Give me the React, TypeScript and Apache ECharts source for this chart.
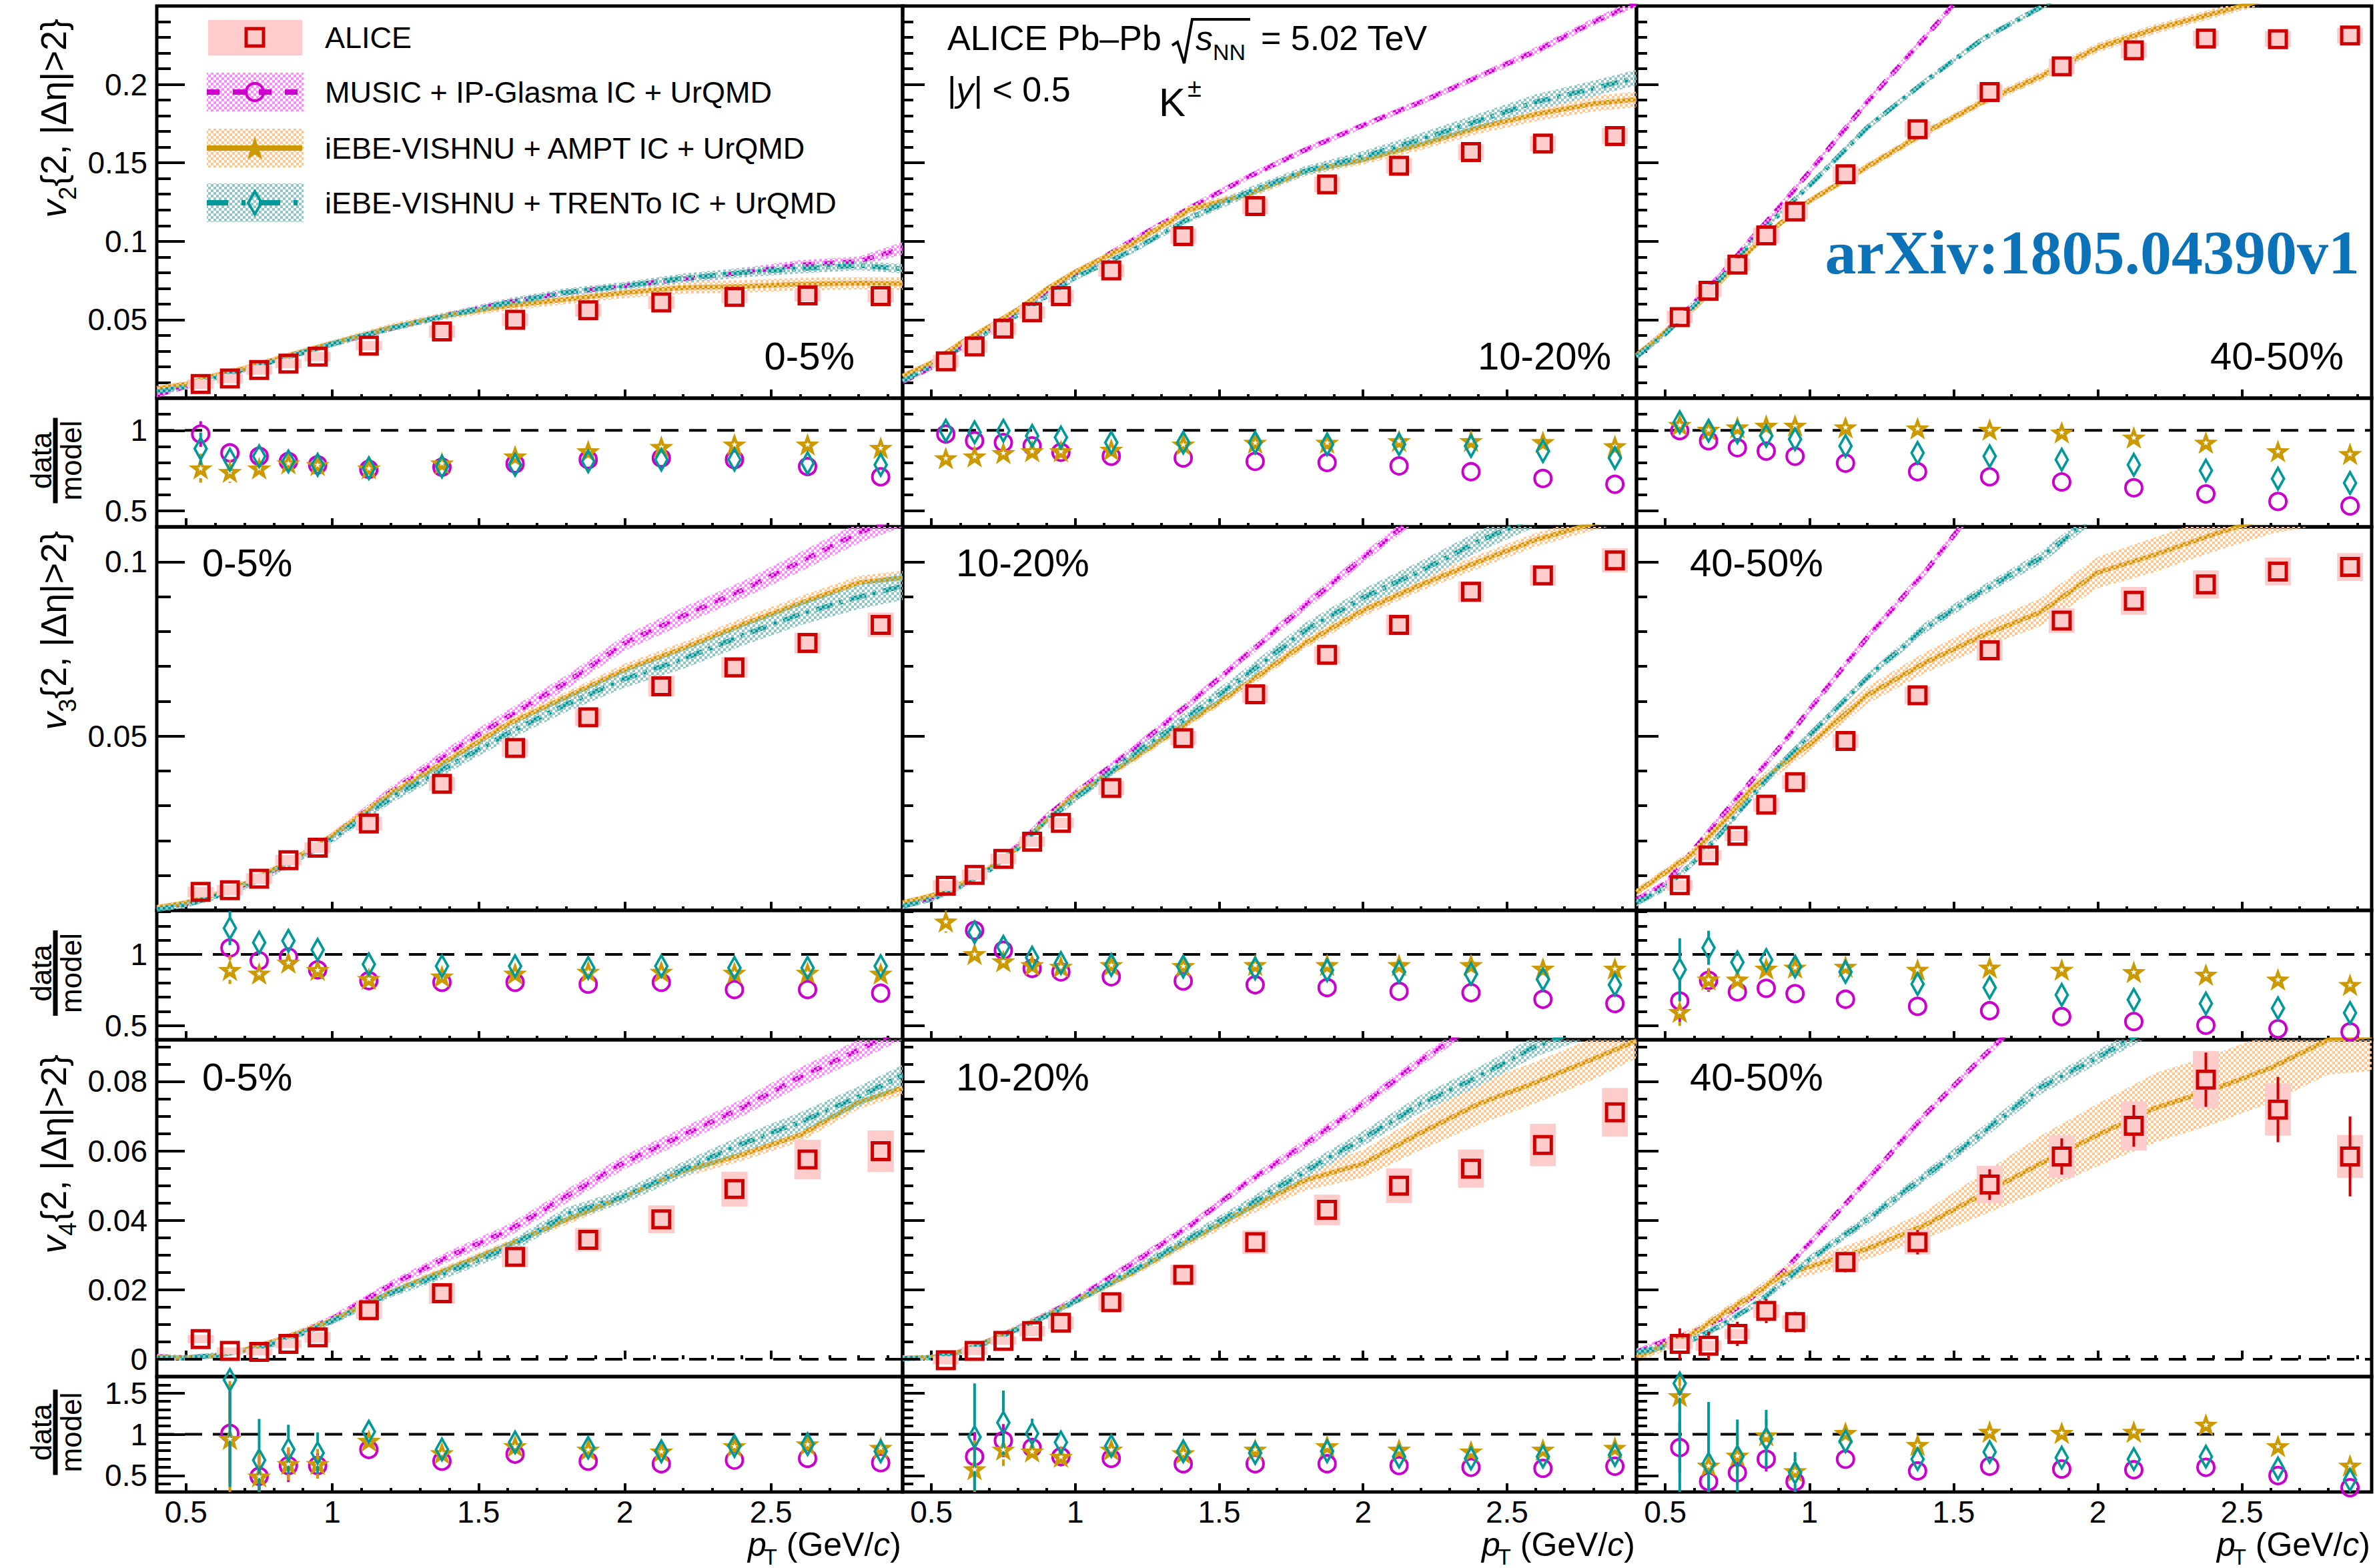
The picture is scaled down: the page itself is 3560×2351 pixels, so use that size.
import React, { useEffect, useRef } from 'react';
import * as echarts from 'echarts';

const W = 3560;
const H = 2351;
const FONT = '"Liberation Sans", Arial, Helvetica, sans-serif';

// ---------------- axes / ticks ----------------
const X_MIN = 0.4;
const X_MAX = 2.95;
const X_MAJOR = [0.5, 1, 1.5, 2, 2.5];
const X_MINOR = [0.4, 0.5, 0.6, 0.7, 0.8, 0.9, 1.0, 1.1, 1.2, 1.3, 1.4, 1.5, 1.6, 1.7, 1.8, 1.9, 2.0, 2.1, 2.2, 2.3, 2.4, 2.5, 2.6, 2.7, 2.8, 2.9];
const V2_MAJOR = [0.05, 0.1, 0.15, 0.2];
const V2_MINOR = [0.01, 0.02, 0.03, 0.04, 0.05, 0.06, 0.07, 0.08, 0.09, 0.1, 0.11, 0.12, 0.13, 0.14, 0.15, 0.16, 0.17, 0.18, 0.19, 0.2, 0.21, 0.22, 0.23, 0.24];
const V3_MAJOR = [0.05, 0.1];
const V3_MINOR = [0.01, 0.02, 0.03, 0.04, 0.05, 0.06, 0.07, 0.08, 0.09, 0.1];
const V4_MAJOR = [0, 0.02, 0.04, 0.06, 0.08];
const V4_MINOR = [0, 0.005, 0.01, 0.015, 0.02, 0.025, 0.03, 0.035, 0.04, 0.045, 0.05, 0.055, 0.06, 0.065, 0.07, 0.075, 0.08, 0.085, 0.09];
const R1_MAJOR = [0.5, 1];
const R1_MINOR = [0.5, 0.6, 0.7, 0.8, 0.9, 1.0, 1.1];
const R2_MAJOR = [0.5, 1];
const R2_MINOR = [0.5, 0.6, 0.7, 0.8, 0.9, 1.0, 1.1, 1.2, 1.3];
const R3_MAJOR = [0.5, 1, 1.5];
const R3_MINOR = [0.4, 0.5, 0.6, 0.7, 0.8, 0.9, 1.0, 1.1, 1.2, 1.3, 1.4, 1.5, 1.6];

// ---------------- data ----------------
const CENTRALITIES = ['0-5%', '10-20%', '40-50%'];
const PT = [0.55, 0.65, 0.75, 0.85, 0.95, 1.125, 1.375, 1.625, 1.875, 2.125, 2.375, 2.625, 2.875];
const MODEL_PT = [0.4, 0.5, 0.6, 0.7, 0.8, 0.9, 1.0, 1.2, 1.4, 1.6, 1.8, 2.0, 2.2, 2.4, 2.6, 2.8, 2.95];

// ALICE v2
const V2_ALICE_0_5 = [0.009, 0.0125, 0.018, 0.022, 0.0265, 0.0335, 0.0425, 0.05, 0.056, 0.061, 0.0645, 0.0655, 0.065];
const V2_SYS_0_5 = [0.003, 0.003, 0.003, 0.003, 0.003, 0.003, 0.004, 0.004, 0.004, 0.004, 0.004, 0.004, 0.004];
const V2_ALICE_10_20 = [0.0235, 0.033, 0.0443, 0.0547, 0.065, 0.0814, 0.1033, 0.1224, 0.1363, 0.1482, 0.1569, 0.1623, 0.1671];
const V2_SYS_10_20 = [0.004, 0.004, 0.004, 0.004, 0.004, 0.004, 0.005, 0.005, 0.005, 0.005, 0.005, 0.005, 0.005];
const V2_ALICE_40_50 = [0.0517, 0.0684, 0.0851, 0.1037, 0.1189, 0.1428, 0.1714, 0.1952, 0.2115, 0.2217, 0.2293, 0.2289, 0.2312];
const V2_SYS_40_50 = [0.004, 0.004, 0.004, 0.005, 0.005, 0.005, 0.005, 0.005, 0.005, 0.005, 0.005, 0.005, 0.005];

// ALICE v3
const V3_ALICE_0_5 = [0.0053, 0.0058, 0.0091, 0.0144, 0.018, 0.0249, 0.0363, 0.0466, 0.0554, 0.0643, 0.0697, 0.0767, 0.0819];
const V3_SYS_0_5 = [0.0015, 0.0015, 0.0015, 0.0015, 0.0015, 0.002, 0.002, 0.0025, 0.0025, 0.003, 0.003, 0.003, 0.0035];
const V3_ALICE_10_20 = [0.0071, 0.0102, 0.0148, 0.0197, 0.0251, 0.0351, 0.0494, 0.062, 0.0733, 0.0819, 0.0914, 0.0961, 0.1004];
const V3_SYS_10_20 = [0.0015, 0.0015, 0.0015, 0.0015, 0.0015, 0.002, 0.002, 0.0025, 0.0025, 0.003, 0.003, 0.003, 0.0035];
const V3_ALICE_40_50 = [0.0072, 0.0158, 0.0214, 0.0303, 0.0368, 0.0486, 0.0617, 0.0746, 0.0831, 0.0888, 0.0935, 0.0972, 0.0985];
const V3_SYS_40_50 = [0.0015, 0.0015, 0.0015, 0.002, 0.002, 0.002, 0.0025, 0.003, 0.0035, 0.004, 0.004, 0.004, 0.004];

// ALICE v4
const V4_ALICE_0_5 = [0.0058, 0.0024, 0.0021, 0.0044, 0.0063, 0.0141, 0.019, 0.0295, 0.0344, 0.0403, 0.049, 0.0575, 0.0599];
const V4_SYS_0_5 = [0.0012, 0.001, 0.001, 0.0012, 0.0015, 0.0025, 0.003, 0.003, 0.0034, 0.004, 0.005, 0.0057, 0.006];
const V4_STAT_0_5 = [0.0008, 0.0008, 0.0008, 0.0008, 0.0008, 0.001, 0.001, 0.001, 0.0012, 0.0014, 0.0016, 0.002, 0.0025];
const V4_ALICE_10_20 = [-0.0003, 0.0024, 0.0053, 0.0081, 0.0105, 0.0164, 0.0243, 0.0337, 0.043, 0.05, 0.0549, 0.0617, 0.0711];
const V4_SYS_10_20 = [0.0012, 0.0012, 0.0012, 0.0015, 0.0018, 0.0025, 0.0029, 0.0034, 0.0044, 0.005, 0.0055, 0.0061, 0.007];
const V4_STAT_10_20 = [0.0008, 0.0008, 0.0008, 0.0008, 0.0008, 0.001, 0.001, 0.0012, 0.0014, 0.0016, 0.0018, 0.002, 0.0025];
const V4_ALICE_40_50 = [0.0044, 0.0039, 0.0073, 0.0139, 0.0107, 0.028, 0.0337, 0.0503, 0.0584, 0.0672, 0.0805, 0.0719, 0.0584];
const V4_SYS_40_50 = [0.0015, 0.0015, 0.0015, 0.002, 0.002, 0.003, 0.0035, 0.0054, 0.0061, 0.0071, 0.0083, 0.0075, 0.0062];
const V4_STAT_40_50 = [0.0045, 0.004, 0.0035, 0.0035, 0.003, 0.003, 0.0035, 0.0044, 0.0052, 0.006, 0.0078, 0.0094, 0.0115];

// Models v2
const V2_MUSIC_0_5 = [0.002, 0.0075, 0.0135, 0.0185, 0.024, 0.0293, 0.0347, 0.0445, 0.0532, 0.0612, 0.0673, 0.0716, 0.076, 0.08, 0.085, 0.0872, 0.0955];
const V2_MUSIC_0_5_ERR = [0.0015, 0.0015, 0.002, 0.002, 0.002, 0.002, 0.002, 0.002, 0.002, 0.0025, 0.0025, 0.0025, 0.003, 0.003, 0.003, 0.003, 0.004];
const V2_AMPT_0_5 = [0.006, 0.009, 0.0145, 0.019, 0.0245, 0.0298, 0.035, 0.045, 0.053, 0.0589, 0.063, 0.0673, 0.0705, 0.0712, 0.0727, 0.0733, 0.073];
const V2_AMPT_0_5_ERR = [0.002, 0.002, 0.002, 0.002, 0.002, 0.002, 0.002, 0.0025, 0.0025, 0.003, 0.003, 0.0035, 0.004, 0.004, 0.004, 0.004, 0.004];
const V2_TRENTO_0_5 = [0.004, 0.0075, 0.013, 0.018, 0.0235, 0.029, 0.0345, 0.0445, 0.053, 0.061, 0.0675, 0.0716, 0.0765, 0.08, 0.0825, 0.0846, 0.0825];
const V2_TRENTO_0_5_ERR = [0.0015, 0.0015, 0.0015, 0.0015, 0.0015, 0.002, 0.002, 0.002, 0.002, 0.0025, 0.0025, 0.0025, 0.003, 0.003, 0.003, 0.003, 0.003];

const V2_MUSIC_10_20 = [0.0105, 0.0196, 0.032, 0.043, 0.054, 0.0684, 0.0792, 0.1009, 0.1215, 0.141, 0.1584, 0.174, 0.1888, 0.205, 0.2213, 0.2398, 0.252];
const V2_MUSIC_10_20_ERR = [0.0015, 0.0015, 0.0015, 0.0015, 0.0015, 0.0015, 0.0015, 0.002, 0.002, 0.002, 0.002, 0.002, 0.002, 0.002, 0.0025, 0.0025, 0.0025];
const V2_AMPT_10_20 = [0.0141, 0.0225, 0.035, 0.0455, 0.0565, 0.0695, 0.0805, 0.0987, 0.1204, 0.13, 0.1447, 0.1519, 0.1616, 0.1725, 0.181, 0.1877, 0.1905];
const V2_AMPT_10_20_ERR = [0.002, 0.002, 0.002, 0.002, 0.002, 0.002, 0.002, 0.0025, 0.0025, 0.003, 0.003, 0.003, 0.0035, 0.004, 0.0045, 0.005, 0.005];
const V2_TRENTO_10_20 = [0.011, 0.0205, 0.032, 0.0425, 0.053, 0.065, 0.077, 0.0944, 0.115, 0.1313, 0.145, 0.154, 0.165, 0.1768, 0.1888, 0.1974, 0.2044];
const V2_TRENTO_10_20_ERR = [0.0015, 0.0015, 0.0015, 0.0015, 0.0015, 0.002, 0.002, 0.002, 0.0025, 0.003, 0.003, 0.0035, 0.004, 0.0045, 0.005, 0.005, 0.005];

const V2_MUSIC_40_50 = [0.0272, 0.0423, 0.0608, 0.0803, 0.102, 0.1226, 0.1443, 0.1888, 0.23, 0.272, 0.31, 0.35, 0.39, 0.43, 0.47, 0.51, 0.54];
const V2_MUSIC_40_50_ERR = [0.002, 0.002, 0.002, 0.002, 0.002, 0.002, 0.002, 0.002, 0.002, 0.002, 0.002, 0.002, 0.002, 0.002, 0.002, 0.002, 0.002];
const V2_AMPT_40_50 = [0.0272, 0.0423, 0.0575, 0.076, 0.0955, 0.1117, 0.1258, 0.1475, 0.1692, 0.1888, 0.205, 0.2235, 0.2354, 0.2452, 0.255, 0.262, 0.268];
const V2_AMPT_40_50_ERR = [0.002, 0.002, 0.002, 0.002, 0.002, 0.002, 0.002, 0.0025, 0.0025, 0.0025, 0.003, 0.003, 0.003, 0.003, 0.003, 0.003, 0.003];
const V2_TRENTO_40_50 = [0.0265, 0.041, 0.059, 0.078, 0.0998, 0.1183, 0.1356, 0.1725, 0.2018, 0.2289, 0.249, 0.27, 0.29, 0.31, 0.33, 0.35, 0.365];
const V2_TRENTO_40_50_ERR = [0.002, 0.002, 0.002, 0.002, 0.002, 0.002, 0.002, 0.002, 0.002, 0.002, 0.002, 0.002, 0.002, 0.002, 0.002, 0.002, 0.002];

// Models v3
const V3_MUSIC_0_5 = [0.0004, 0.0019, 0.0042, 0.0073, 0.0115, 0.0161, 0.0213, 0.034, 0.0452, 0.0555, 0.0654, 0.0767, 0.0845, 0.0918, 0.1, 0.1083, 0.113];
const V3_MUSIC_0_5_ERR = [0.0008, 0.0008, 0.001, 0.001, 0.001, 0.001, 0.0012, 0.0015, 0.0018, 0.002, 0.002, 0.0022, 0.0025, 0.0025, 0.0028, 0.003, 0.003];
const V3_AMPT_0_5 = [0.0008, 0.0022, 0.0045, 0.0076, 0.0117, 0.0163, 0.0215, 0.0335, 0.0433, 0.0534, 0.0612, 0.069, 0.0752, 0.0819, 0.0881, 0.094, 0.0954];
const V3_AMPT_0_5_ERR = [0.0008, 0.0008, 0.001, 0.001, 0.001, 0.001, 0.001, 0.0012, 0.0012, 0.0015, 0.0015, 0.0018, 0.0018, 0.002, 0.002, 0.002, 0.002];
const V3_TRENTO_0_5 = [0.0002, 0.0016, 0.004, 0.007, 0.011, 0.0155, 0.0205, 0.0322, 0.0415, 0.0508, 0.0591, 0.0664, 0.0721, 0.0788, 0.085, 0.0899, 0.093];
const V3_TRENTO_0_5_ERR = [0.0008, 0.0008, 0.001, 0.001, 0.001, 0.001, 0.0012, 0.0015, 0.0018, 0.002, 0.0022, 0.0025, 0.0028, 0.003, 0.0032, 0.0035, 0.004];

const V3_MUSIC_10_20 = [0.0013, 0.0034, 0.007, 0.012, 0.0185, 0.027, 0.0337, 0.0461, 0.0596, 0.0736, 0.0876, 0.1011, 0.114, 0.127, 0.14, 0.152, 0.16];
const V3_MUSIC_10_20_ERR = [0.0008, 0.0008, 0.0008, 0.001, 0.001, 0.001, 0.001, 0.0012, 0.0012, 0.0012, 0.0015, 0.0015, 0.0015, 0.0015, 0.0015, 0.0015, 0.0015];
const V3_AMPT_10_20 = [0.0022, 0.0042, 0.0075, 0.012, 0.018, 0.026, 0.0332, 0.0435, 0.0544, 0.0653, 0.0767, 0.0861, 0.0934, 0.1, 0.1063, 0.111, 0.114];
const V3_AMPT_10_20_ERR = [0.0008, 0.0008, 0.0008, 0.001, 0.001, 0.001, 0.001, 0.0012, 0.0012, 0.0015, 0.0015, 0.0018, 0.0018, 0.002, 0.002, 0.002, 0.002];
const V3_TRENTO_10_20 = [0.0012, 0.0032, 0.0068, 0.0115, 0.0178, 0.0258, 0.0321, 0.0446, 0.056, 0.0679, 0.0804, 0.0897, 0.0974, 0.1058, 0.113, 0.12, 0.125];
const V3_TRENTO_10_20_ERR = [0.0008, 0.0008, 0.0008, 0.001, 0.001, 0.001, 0.0012, 0.0015, 0.0018, 0.002, 0.0022, 0.0025, 0.0028, 0.003, 0.003, 0.003, 0.003];

const V3_MUSIC_40_50 = [0.0031, 0.0077, 0.0176, 0.0275, 0.0373, 0.0471, 0.0576, 0.0783, 0.097, 0.118, 0.138, 0.158, 0.178, 0.198, 0.218, 0.238, 0.253];
const V3_MUSIC_40_50_ERR = [0.001, 0.001, 0.001, 0.001, 0.001, 0.001, 0.001, 0.0012, 0.0012, 0.0012, 0.0012, 0.0012, 0.0012, 0.0012, 0.0012, 0.0012, 0.0012];
const V3_AMPT_40_50 = [0.0052, 0.0109, 0.0165, 0.0254, 0.0347, 0.0415, 0.0476, 0.0617, 0.071, 0.0788, 0.0855, 0.0969, 0.1021, 0.1078, 0.113, 0.116, 0.118];
const V3_AMPT_40_50_ERR = [0.0012, 0.0012, 0.0015, 0.0015, 0.0015, 0.002, 0.002, 0.0025, 0.003, 0.0035, 0.004, 0.0045, 0.005, 0.005, 0.005, 0.005, 0.005];
const V3_TRENTO_40_50 = [0.0021, 0.0066, 0.014, 0.0228, 0.0327, 0.042, 0.0503, 0.0668, 0.081, 0.0917, 0.101, 0.114, 0.126, 0.138, 0.15, 0.16, 0.168];
const V3_TRENTO_40_50_ERR = [0.001, 0.001, 0.001, 0.001, 0.001, 0.0012, 0.0012, 0.0012, 0.0015, 0.0015, 0.0018, 0.0018, 0.0018, 0.0018, 0.0018, 0.0018, 0.0018];

// Models v4
const V4_MUSIC_0_5 = [0.0008, 0.0004, 0.0011, 0.0027, 0.0048, 0.008, 0.0117, 0.0214, 0.0297, 0.037, 0.0469, 0.0568, 0.0646, 0.0724, 0.0813, 0.0891, 0.095];
const V4_MUSIC_0_5_ERR = [0.0008, 0.0008, 0.0008, 0.0008, 0.001, 0.001, 0.001, 0.0012, 0.0015, 0.0018, 0.002, 0.002, 0.0022, 0.0025, 0.0028, 0.003, 0.003];
const V4_AMPT_0_5 = [0.0005, 0.0004, 0.001, 0.0027, 0.0052, 0.008, 0.0113, 0.0193, 0.0261, 0.0329, 0.0402, 0.0469, 0.0542, 0.0589, 0.0646, 0.074, 0.0782];
const V4_AMPT_0_5_ERR = [0.0008, 0.0008, 0.0008, 0.0008, 0.0008, 0.001, 0.001, 0.001, 0.0012, 0.0012, 0.0015, 0.0015, 0.0018, 0.0018, 0.002, 0.002, 0.002];
const V4_TRENTO_0_5 = [0.0003, 0.0004, 0.0011, 0.0025, 0.0045, 0.0075, 0.011, 0.019, 0.0252, 0.032, 0.0417, 0.047, 0.0547, 0.062, 0.0683, 0.0756, 0.0818];
const V4_TRENTO_0_5_ERR = [0.0008, 0.0008, 0.0008, 0.0008, 0.001, 0.001, 0.001, 0.0012, 0.0015, 0.0018, 0.002, 0.002, 0.0022, 0.0025, 0.0028, 0.003, 0.003];

const V4_MUSIC_10_20 = [0.0003, 0.0005, 0.0022, 0.0053, 0.009, 0.0128, 0.0172, 0.0277, 0.0386, 0.0511, 0.062, 0.0735, 0.086, 0.097, 0.108, 0.119, 0.127];
const V4_MUSIC_10_20_ERR = [0.0008, 0.0008, 0.0008, 0.0008, 0.001, 0.001, 0.001, 0.0012, 0.0012, 0.0012, 0.0015, 0.0015, 0.0015, 0.0015, 0.0015, 0.0015, 0.0015];
const V4_AMPT_10_20 = [0.0003, 0.0005, 0.0021, 0.0053, 0.0089, 0.0126, 0.0167, 0.025, 0.0344, 0.0433, 0.0516, 0.0563, 0.0652, 0.0735, 0.0797, 0.0865, 0.0917];
const V4_AMPT_10_20_ERR = [0.0008, 0.0008, 0.0008, 0.0008, 0.001, 0.001, 0.001, 0.0012, 0.0015, 0.002, 0.003, 0.004, 0.005, 0.006, 0.006, 0.006, 0.005];
const V4_TRENTO_10_20 = [0.0002, 0.0004, 0.002, 0.005, 0.0087, 0.0125, 0.0167, 0.0255, 0.035, 0.0443, 0.0542, 0.0636, 0.0735, 0.0813, 0.0902, 0.096, 0.1];
const V4_TRENTO_10_20_ERR = [0.0008, 0.0008, 0.0008, 0.0008, 0.001, 0.001, 0.001, 0.0012, 0.0015, 0.0018, 0.002, 0.0022, 0.0025, 0.0028, 0.003, 0.003, 0.003];

const V4_MUSIC_40_50 = [0.0021, 0.0053, 0.0079, 0.012, 0.0178, 0.0245, 0.0334, 0.0516, 0.0704, 0.087, 0.103, 0.12, 0.137, 0.154, 0.17, 0.187, 0.2];
const V4_MUSIC_40_50_ERR = [0.001, 0.001, 0.001, 0.001, 0.001, 0.001, 0.001, 0.0012, 0.0012, 0.0012, 0.0012, 0.0012, 0.0012, 0.0012, 0.0012, 0.0012, 0.0012];
const V4_AMPT_40_50 = [0.0005, 0.004, 0.0075, 0.0131, 0.0183, 0.024, 0.0266, 0.0318, 0.0386, 0.0475, 0.0563, 0.0646, 0.0724, 0.0777, 0.0839, 0.092, 0.093];
const V4_AMPT_40_50_ERR = [0.0015, 0.0015, 0.0015, 0.0015, 0.0015, 0.002, 0.0025, 0.003, 0.004, 0.006, 0.008, 0.009, 0.01, 0.01, 0.01, 0.01, 0.01];
const V4_TRENTO_40_50 = [0.002, 0.0036, 0.0058, 0.01, 0.0152, 0.0214, 0.0287, 0.0402, 0.0527, 0.0652, 0.0782, 0.087, 0.096, 0.106, 0.116, 0.126, 0.134];
const V4_TRENTO_40_50_ERR = [0.001, 0.001, 0.001, 0.001, 0.001, 0.0012, 0.0012, 0.0015, 0.0015, 0.0018, 0.002, 0.002, 0.0022, 0.0025, 0.0025, 0.0025, 0.0025];

// Ratios data/model : v2
const R1_MUSIC_0_5 = [0.977, 0.86, 0.839, 0.807, 0.786, 0.758, 0.771, 0.792, 0.818, 0.828, 0.818, 0.775, 0.711];
const R1_MUSIC_0_5_ERR = [0.08, 0.05, 0.04, 0.03, 0.03, 0.015, 0.01, 0.01, 0.01, 0.01, 0.01, 0.01, 0.01];
const R1_AMPT_0_5 = [0.765, 0.743, 0.765, 0.796, 0.786, 0.765, 0.796, 0.839, 0.871, 0.898, 0.913, 0.913, 0.892];
const R1_AMPT_0_5_ERR = [0.09, 0.07, 0.05, 0.04, 0.03, 0.02, 0.02, 0.02, 0.02, 0.02, 0.02, 0.02, 0.02];
const R1_TRENTO_0_5 = [0.886, 0.818, 0.839, 0.807, 0.786, 0.765, 0.775, 0.786, 0.807, 0.818, 0.818, 0.796, 0.786];
const R1_TRENTO_0_5_ERR = [0.1, 0.06, 0.05, 0.04, 0.03, 0.02, 0.01, 0.01, 0.01, 0.01, 0.01, 0.01, 0.01];
const R1_MUSIC_10_20 = [0.977, 0.935, 0.924, 0.903, 0.864, 0.839, 0.828, 0.807, 0.8, 0.779, 0.743, 0.701, 0.665];
const R1_MUSIC_10_20_ERR = [0.05, 0.04, 0.04, 0.03, 0.03, 0.02, 0.01, 0.01, 0.01, 0.01, 0.01, 0.01, 0.01];
const R1_AMPT_10_20 = [0.828, 0.839, 0.86, 0.871, 0.871, 0.881, 0.913, 0.924, 0.924, 0.935, 0.935, 0.928, 0.903];
const R1_AMPT_10_20_ERR = [0.05, 0.04, 0.04, 0.03, 0.03, 0.02, 0.02, 0.02, 0.02, 0.02, 0.02, 0.02, 0.02];
const R1_TRENTO_10_20 = [0.998, 0.988, 0.998, 0.966, 0.956, 0.924, 0.924, 0.924, 0.913, 0.913, 0.903, 0.871, 0.828];
const R1_TRENTO_10_20_ERR = [0.07, 0.05, 0.05, 0.04, 0.03, 0.02, 0.01, 0.01, 0.01, 0.01, 0.01, 0.01, 0.01];
const R1_MUSIC_40_50 = [0.998, 0.935, 0.892, 0.871, 0.839, 0.796, 0.743, 0.711, 0.679, 0.643, 0.605, 0.558, 0.53];
const R1_MUSIC_40_50_ERR = [0.04, 0.03, 0.02, 0.02, 0.02, 0.01, 0.01, 0.01, 0.01, 0.01, 0.01, 0.01, 0.01];
const R1_AMPT_40_50 = [1.035, 1.005, 1.02, 1.03, 1.03, 1.02, 1.013, 1.005, 0.988, 0.956, 0.924, 0.871, 0.854];
const R1_AMPT_40_50_ERR = [0.04, 0.03, 0.02, 0.02, 0.02, 0.02, 0.02, 0.02, 0.02, 0.02, 0.02, 0.02, 0.02];
const R1_TRENTO_40_50 = [1.051, 0.998, 0.988, 0.966, 0.945, 0.903, 0.86, 0.839, 0.818, 0.786, 0.75, 0.7, 0.673];
const R1_TRENTO_40_50_ERR = [0.05, 0.04, 0.03, 0.02, 0.02, 0.01, 0.01, 0.01, 0.01, 0.01, 0.01, 0.01, 0.01];

// Ratios : v3
const R2_MUSIC_0_5 = [null, 1.046, 0.956, 0.982, 0.892, 0.816, 0.804, 0.804, 0.791, 0.804, 0.753, 0.753, 0.728];
const R2_MUSIC_0_5_ERR = [0, 0.08, 0.05, 0.04, 0.03, 0.02, 0.01, 0.01, 0.01, 0.01, 0.01, 0.01, 0.01];
const R2_AMPT_0_5 = [null, 0.892, 0.867, 0.944, 0.892, 0.829, 0.847, 0.867, 0.88, 0.88, 0.872, 0.872, 0.867];
const R2_AMPT_0_5_ERR = [0, 0.1, 0.06, 0.04, 0.03, 0.02, 0.02, 0.02, 0.02, 0.02, 0.02, 0.02, 0.02];
const R2_TRENTO_0_5 = [null, 1.185, 1.084, 1.096, 1.033, 0.931, 0.918, 0.918, 0.906, 0.918, 0.906, 0.906, 0.918];
const R2_TRENTO_0_5_ERR = [0, 0.12, 0.07, 0.05, 0.04, 0.02, 0.01, 0.01, 0.01, 0.01, 0.01, 0.01, 0.01];
const R2_MUSIC_10_20 = [null, 1.169, 1.029, 0.902, 0.877, 0.843, 0.813, 0.787, 0.767, 0.741, 0.731, 0.685, 0.655];
const R2_MUSIC_10_20_ERR = [0, 0.07, 0.04, 0.03, 0.03, 0.02, 0.01, 0.01, 0.01, 0.01, 0.01, 0.01, 0.01];
const R2_AMPT_10_20 = [1.233, 1.004, 0.953, 0.927, 0.915, 0.927, 0.92, 0.927, 0.927, 0.927, 0.927, 0.902, 0.902];
const R2_AMPT_10_20_ERR = [0.08, 0.05, 0.04, 0.03, 0.02, 0.02, 0.02, 0.02, 0.02, 0.02, 0.02, 0.02, 0.02];
const R2_TRENTO_10_20 = [null, 1.156, 1.054, 0.978, 0.94, 0.927, 0.915, 0.902, 0.889, 0.877, 0.863, 0.825, 0.787];
const R2_TRENTO_10_20_ERR = [0, 0.08, 0.05, 0.03, 0.03, 0.02, 0.01, 0.01, 0.01, 0.01, 0.01, 0.01, 0.01];
const R2_MUSIC_40_50 = [0.673, 0.818, 0.737, 0.762, 0.724, 0.685, 0.635, 0.604, 0.563, 0.528, 0.502, 0.477, 0.456];
const R2_MUSIC_40_50_ERR = [0.15, 0.08, 0.04, 0.03, 0.03, 0.02, 0.01, 0.01, 0.01, 0.01, 0.01, 0.01, 0.01];
const R2_AMPT_40_50 = [0.597, 0.825, 0.825, 0.902, 0.909, 0.915, 0.894, 0.909, 0.894, 0.877, 0.859, 0.825, 0.787];
const R2_AMPT_40_50_ERR = [0.1, 0.08, 0.04, 0.03, 0.03, 0.02, 0.02, 0.02, 0.02, 0.02, 0.02, 0.02, 0.02];
const R2_TRENTO_40_50 = [0.894, 1.047, 0.945, 0.961, 0.915, 0.877, 0.792, 0.767, 0.716, 0.681, 0.655, 0.622, 0.589];
const R2_TRENTO_40_50_ERR = [0.22, 0.12, 0.05, 0.04, 0.03, 0.02, 0.01, 0.01, 0.01, 0.01, 0.01, 0.01, 0.01];

// Ratios : v4
const R3_MUSIC_0_5 = [null, 1.01, 0.49, 0.62, 0.62, 0.816, 0.673, 0.759, 0.673, 0.642, 0.686, 0.707, 0.655];
const R3_MUSIC_0_5_ERR = [0, 0.6, 0.25, 0.2, 0.15, 0.07, 0.04, 0.03, 0.03, 0.03, 0.03, 0.03, 0.03];
const R3_AMPT_0_5 = [null, 0.946, 0.49, 0.642, 0.642, 0.924, 0.773, 0.858, 0.816, 0.794, 0.858, 0.88, 0.838];
const R3_AMPT_0_5_ERR = [0, 0.7, 0.3, 0.2, 0.18, 0.08, 0.05, 0.04, 0.04, 0.04, 0.04, 0.04, 0.04];
const R3_TRENTO_0_5 = [null, 1.66, 0.686, 0.816, 0.773, 1.032, 0.816, 0.902, 0.838, 0.794, 0.858, 0.88, 0.794];
const R3_TRENTO_0_5_ERR = [0, 1.3, 0.5, 0.3, 0.25, 0.12, 0.06, 0.05, 0.05, 0.05, 0.05, 0.05, 0.05];
const R3_MUSIC_10_20 = [null, 0.729, 0.924, 0.838, 0.729, 0.707, 0.642, 0.642, 0.642, 0.621, 0.599, 0.586, 0.612];
const R3_MUSIC_10_20_ERR = [0, 0.3, 0.2, 0.1, 0.08, 0.05, 0.03, 0.03, 0.03, 0.03, 0.03, 0.03, 0.03];
const R3_AMPT_10_20 = [null, 0.578, 0.816, 0.794, 0.729, 0.816, 0.773, 0.816, 0.858, 0.816, 0.794, 0.816, 0.838];
const R3_AMPT_10_20_ERR = [0, 0.35, 0.2, 0.1, 0.08, 0.05, 0.04, 0.04, 0.04, 0.04, 0.04, 0.04, 0.04];
const R3_TRENTO_10_20 = [null, 0.967, 1.141, 1.01, 0.902, 0.858, 0.794, 0.773, 0.794, 0.729, 0.707, 0.729, 0.75];
const R3_TRENTO_10_20_ERR = [0, 0.65, 0.39, 0.18, 0.1, 0.06, 0.05, 0.05, 0.05, 0.05, 0.05, 0.05, 0.05];
const R3_MUSIC_40_50 = [0.838, 0.426, 0.534, 0.698, 0.426, 0.698, 0.555, 0.612, 0.578, 0.569, 0.599, 0.499, 0.352];
const R3_MUSIC_40_50_ERR = [0.3, 0.25, 0.15, 0.15, 0.1, 0.05, 0.04, 0.04, 0.04, 0.04, 0.04, 0.04, 0.04];
const R3_AMPT_40_50 = [1.465, 0.621, 0.742, 0.989, 0.555, 1.019, 0.872, 1.032, 1.019, 1.032, 1.118, 0.858, 0.621];
const R3_AMPT_40_50_ERR = [0.5, 0.35, 0.25, 0.2, 0.15, 0.05, 0.05, 0.05, 0.05, 0.05, 0.05, 0.05, 0.05];
const R3_TRENTO_40_50 = [1.617, 0.642, 0.729, 0.946, 0.534, 0.915, 0.698, 0.785, 0.716, 0.698, 0.729, 0.586, 0.447];
const R3_TRENTO_40_50_ERR = [1.4, 0.75, 0.45, 0.35, 0.25, 0.06, 0.05, 0.05, 0.05, 0.05, 0.05, 0.05, 0.05];

// ---------------- layout & styles ----------------
const COL_L = [235, 1353, 2453];
const COL_R = [1353, 2453, 3555];
const MAIN_TB = [[9, 597], [790, 1365], [1559, 2064]];
const RATIO_TB = [[597, 790], [1365, 1559], [2064, 2237]];
const BOX_HALF = 0.045;

const C_RED = '#CC0000';
const C_PINK = '#FFCCCC';
const C_MAG = '#CC00CC';
const C_GOLD = '#CC9900';
const C_TEAL = '#009999';
const STAR = 'path://M0,-10 L2.35,-3.24 L9.51,-3.09 L3.8,1.24 L5.88,8.09 L0,4 L-5.88,8.09 L-3.8,1.24 L-9.51,-3.09 L-2.35,-3.24 Z';

const MAIN_Y = [
  { min: 0, max: 0.25, major: V2_MAJOR, minor: V2_MINOR },
  { min: 0, max: 0.11, major: V3_MAJOR, minor: V3_MINOR },
  { min: -0.005, max: 0.092, major: V4_MAJOR, minor: V4_MINOR },
];
const RATIO_Y = [
  { min: 0.4, max: 1.2, major: R1_MAJOR, minor: R1_MINOR },
  { min: 0.4, max: 1.31, major: R2_MAJOR, minor: R2_MINOR },
  { min: 0.3, max: 1.7, major: R3_MAJOR, minor: R3_MINOR },
];

const ALICE = [
  [[V2_ALICE_0_5, V2_SYS_0_5, null], [V2_ALICE_10_20, V2_SYS_10_20, null], [V2_ALICE_40_50, V2_SYS_40_50, null]],
  [[V3_ALICE_0_5, V3_SYS_0_5, null], [V3_ALICE_10_20, V3_SYS_10_20, null], [V3_ALICE_40_50, V3_SYS_40_50, null]],
  [[V4_ALICE_0_5, V4_SYS_0_5, V4_STAT_0_5], [V4_ALICE_10_20, V4_SYS_10_20, V4_STAT_10_20], [V4_ALICE_40_50, V4_SYS_40_50, V4_STAT_40_50]],
];
const MODELS = [
  [
    [[V2_MUSIC_0_5, V2_MUSIC_0_5_ERR], [V2_AMPT_0_5, V2_AMPT_0_5_ERR], [V2_TRENTO_0_5, V2_TRENTO_0_5_ERR]],
    [[V2_MUSIC_10_20, V2_MUSIC_10_20_ERR], [V2_AMPT_10_20, V2_AMPT_10_20_ERR], [V2_TRENTO_10_20, V2_TRENTO_10_20_ERR]],
    [[V2_MUSIC_40_50, V2_MUSIC_40_50_ERR], [V2_AMPT_40_50, V2_AMPT_40_50_ERR], [V2_TRENTO_40_50, V2_TRENTO_40_50_ERR]],
  ],
  [
    [[V3_MUSIC_0_5, V3_MUSIC_0_5_ERR], [V3_AMPT_0_5, V3_AMPT_0_5_ERR], [V3_TRENTO_0_5, V3_TRENTO_0_5_ERR]],
    [[V3_MUSIC_10_20, V3_MUSIC_10_20_ERR], [V3_AMPT_10_20, V3_AMPT_10_20_ERR], [V3_TRENTO_10_20, V3_TRENTO_10_20_ERR]],
    [[V3_MUSIC_40_50, V3_MUSIC_40_50_ERR], [V3_AMPT_40_50, V3_AMPT_40_50_ERR], [V3_TRENTO_40_50, V3_TRENTO_40_50_ERR]],
  ],
  [
    [[V4_MUSIC_0_5, V4_MUSIC_0_5_ERR], [V4_AMPT_0_5, V4_AMPT_0_5_ERR], [V4_TRENTO_0_5, V4_TRENTO_0_5_ERR]],
    [[V4_MUSIC_10_20, V4_MUSIC_10_20_ERR], [V4_AMPT_10_20, V4_AMPT_10_20_ERR], [V4_TRENTO_10_20, V4_TRENTO_10_20_ERR]],
    [[V4_MUSIC_40_50, V4_MUSIC_40_50_ERR], [V4_AMPT_40_50, V4_AMPT_40_50_ERR], [V4_TRENTO_40_50, V4_TRENTO_40_50_ERR]],
  ],
];
const RATIOS = [
  [
    [[R1_MUSIC_0_5, R1_MUSIC_0_5_ERR], [R1_AMPT_0_5, R1_AMPT_0_5_ERR], [R1_TRENTO_0_5, R1_TRENTO_0_5_ERR]],
    [[R1_MUSIC_10_20, R1_MUSIC_10_20_ERR], [R1_AMPT_10_20, R1_AMPT_10_20_ERR], [R1_TRENTO_10_20, R1_TRENTO_10_20_ERR]],
    [[R1_MUSIC_40_50, R1_MUSIC_40_50_ERR], [R1_AMPT_40_50, R1_AMPT_40_50_ERR], [R1_TRENTO_40_50, R1_TRENTO_40_50_ERR]],
  ],
  [
    [[R2_MUSIC_0_5, R2_MUSIC_0_5_ERR], [R2_AMPT_0_5, R2_AMPT_0_5_ERR], [R2_TRENTO_0_5, R2_TRENTO_0_5_ERR]],
    [[R2_MUSIC_10_20, R2_MUSIC_10_20_ERR], [R2_AMPT_10_20, R2_AMPT_10_20_ERR], [R2_TRENTO_10_20, R2_TRENTO_10_20_ERR]],
    [[R2_MUSIC_40_50, R2_MUSIC_40_50_ERR], [R2_AMPT_40_50, R2_AMPT_40_50_ERR], [R2_TRENTO_40_50, R2_TRENTO_40_50_ERR]],
  ],
  [
    [[R3_MUSIC_0_5, R3_MUSIC_0_5_ERR], [R3_AMPT_0_5, R3_AMPT_0_5_ERR], [R3_TRENTO_0_5, R3_TRENTO_0_5_ERR]],
    [[R3_MUSIC_10_20, R3_MUSIC_10_20_ERR], [R3_AMPT_10_20, R3_AMPT_10_20_ERR], [R3_TRENTO_10_20, R3_TRENTO_10_20_ERR]],
    [[R3_MUSIC_40_50, R3_MUSIC_40_50_ERR], [R3_AMPT_40_50, R3_AMPT_40_50_ERR], [R3_TRENTO_40_50, R3_TRENTO_40_50_ERR]],
  ],
];

function checker(color: string) {
  const cv = document.createElement('canvas');
  cv.width = 8;
  cv.height = 8;
  const ctx = cv.getContext('2d') as CanvasRenderingContext2D;
  ctx.fillStyle = color;
  ctx.fillRect(0, 0, 4, 4);
  ctx.fillRect(4, 4, 4, 4);
  return { image: cv, repeat: 'repeat', imageWidth: 8, imageHeight: 8 };
}

function measure(text: string, font: string) {
  const ctx = document.createElement('canvas').getContext('2d') as CanvasRenderingContext2D;
  ctx.font = font;
  return ctx.measureText(text).width;
}

const fmt = (v: number) => String(parseFloat(Number(v).toFixed(3)));

function rich(size: number, lh: number) {
  const sub = Math.round(size * 0.66);
  return {
    n: { fontSize: size, fontFamily: FONT, fill: '#000', color: '#000', lineHeight: lh, verticalAlign: 'middle' },
    i: { fontSize: size, fontFamily: FONT, fontStyle: 'italic', fill: '#000', color: '#000', lineHeight: lh, verticalAlign: 'middle' },
    s: { fontSize: sub, fontFamily: FONT, fill: '#000', color: '#000', lineHeight: lh, verticalAlign: 'bottom' },
    u: { fontSize: sub, fontFamily: FONT, fill: '#000', color: '#000', lineHeight: lh, verticalAlign: 'top' },
  };
}

function textEl(x: number, y: number, text: string, size: number, align: string, extra: any = {}) {
  const lh = extra.lh || Math.round(size * 1.45);
  return {
    type: 'text', x, y, z: 100,
    style: {
      text, fontSize: size, fontFamily: FONT, fill: '#000',
      textAlign: align, align, textVerticalAlign: 'middle', verticalAlign: 'middle',
      lineHeight: lh, rich: rich(size, lh), ...(extra.style || {}),
    },
  };
}

// error bar drawn outside a marker of half-height `gap`
function errBarRender(color: string, gap: number, width: number) {
  return (_p: any, api: any) => {
    const x = api.value(0), y = api.value(1), s = api.value(2);
    const c = api.coord([x, y]);
    const pt = api.coord([x, y + s]);
    const pb = api.coord([x, y - s]);
    const children: any[] = [];
    const style = { stroke: color, lineWidth: width };
    if (c[1] - pt[1] > gap) children.push({ type: 'line', shape: { x1: c[0], y1: pt[1], x2: c[0], y2: c[1] - gap }, style });
    if (pb[1] - c[1] > gap) children.push({ type: 'line', shape: { x1: c[0], y1: c[1] + gap, x2: c[0], y2: pb[1] }, style });
    return { type: 'group', children };
  };
}

function buildOption() {
  const grid: any[] = [];
  const xAxis: any[] = [];
  const yAxis: any[] = [];
  const series: any[] = [];
  const pat = [checker('#FF8CFF'), checker('#FFC78F'), checker('#8FC7C7')];
  const modelColor = [C_MAG, C_GOLD, C_TEAL];
  const modelDash: any[] = [[18, 12], 'solid', [26, 10, 6, 10]];

  function addGrid(l: number, t: number, r: number, b: number, yr: any, col: number, showX: boolean) {
    const gi = grid.length;
    grid.push({ left: l, top: t, width: r - l, height: b - t, show: true, borderColor: '#000', borderWidth: 5, backgroundColor: 'transparent', containLabel: false });
    const yMaj = col === 0 ? 42 : 33;
    const yMin = col === 0 ? 21 : 16;
    const lab = { fontSize: 46, fontFamily: FONT, color: '#000', lineHeight: 46 };
    xAxis.push({
      type: 'value', gridIndex: gi, position: 'bottom', offset: 0, min: X_MIN, max: X_MAX,
      axisLine: { show: false }, splitLine: { show: false },
      axisTick: { show: true, inside: true, length: 13, lineStyle: { color: '#000', width: 4 }, customValues: X_MAJOR },
      axisLabel: { show: showX, customValues: X_MAJOR, formatter: fmt, margin: 7, ...lab },
    });
    xAxis.push({
      type: 'value', gridIndex: gi, position: 'bottom', offset: 0, min: X_MIN, max: X_MAX,
      axisLine: { show: false }, splitLine: { show: false },
      axisTick: { show: true, inside: true, length: 6, lineStyle: { color: '#000', width: 4 }, customValues: X_MINOR },
      axisLabel: { show: false, customValues: X_MINOR },
    });
    yAxis.push({
      type: 'value', gridIndex: gi, position: 'left', offset: 0, min: yr.min, max: yr.max,
      axisLine: { show: false }, splitLine: { show: false },
      axisTick: { show: true, inside: true, length: yMaj, lineStyle: { color: '#000', width: 4 }, customValues: yr.major },
      axisLabel: { show: col === 0, customValues: yr.major, formatter: fmt, margin: 14, ...lab },
    });
    yAxis.push({
      type: 'value', gridIndex: gi, position: 'left', offset: 0, min: yr.min, max: yr.max,
      axisLine: { show: false }, splitLine: { show: false },
      axisTick: { show: true, inside: true, length: yMin, lineStyle: { color: '#000', width: 4 }, customValues: yr.minor },
      axisLabel: { show: false, customValues: yr.minor },
    });
    return gi;
  }

  const ax = (gi: number) => ({ xAxisIndex: gi * 2, yAxisIndex: gi * 2 });

  function refLine(gi: number, y: number) {
    series.push({
      type: 'line', ...ax(gi), data: [[X_MIN, y], [X_MAX, y]], showSymbol: false, silent: true, z: 2,
      lineStyle: { color: '#000', width: 4, type: [26, 16] },
    });
  }

  for (let h = 0; h < 3; h++) {
    for (let c = 0; c < 3; c++) {
      // ---------- main panel ----------
      const gm = addGrid(COL_L[c], MAIN_TB[h][0], COL_R[c], MAIN_TB[h][1], MAIN_Y[h], c, false);
      if (h === 2) refLine(gm, 0);
      const models = MODELS[h][c];
      for (let m = 0; m < 3; m++) {
        const ys = models[m][0];
        series.push({
          type: 'line', ...ax(gm), data: MODEL_PT.map((x, i) => [x, ys[i]]), showSymbol: false, silent: true, clip: true, z: 1,
          lineStyle: { color: modelColor[m], width: 7, type: modelDash[m] },
        });
      }
      for (let m = 0; m < 3; m++) {
        const ys = models[m][0];
        const es = models[m][1];
        const fill = pat[m];
        series.push({
          type: 'custom', ...ax(gm), clip: true, silent: true, z: 2,
          data: [[1.5, 0.05]],
          renderItem: (_p: any, api: any) => {
            const pts: number[][] = [];
            for (let i = 0; i < MODEL_PT.length; i++) pts.push(api.coord([MODEL_PT[i], ys[i] + es[i]]));
            for (let i = MODEL_PT.length - 1; i >= 0; i--) pts.push(api.coord([MODEL_PT[i], ys[i] - es[i]]));
            return { type: 'polygon', shape: { points: pts }, style: { fill } };
          },
        });
      }
      const [vals, sys, stat] = ALICE[h][c] as any;
      series.push({
        type: 'custom', ...ax(gm), clip: true, silent: true, z: 4,
        data: PT.map((x, i) => [x, vals[i], sys[i]]),
        renderItem: (_p: any, api: any) => {
          const x = api.value(0), y = api.value(1), s = api.value(2);
          const p1 = api.coord([x - BOX_HALF, y + s]);
          const p2 = api.coord([x + BOX_HALF, y - s]);
          return { type: 'rect', shape: { x: p1[0], y: p1[1], width: p2[0] - p1[0], height: p2[1] - p1[1] }, style: { fill: C_PINK } };
        },
      });
      if (stat) {
        series.push({
          type: 'custom', ...ax(gm), clip: true, silent: true, z: 5,
          data: PT.map((x, i) => [x, vals[i], stat[i]]),
          renderItem: errBarRender(C_RED, 15, 4),
        });
      }
      series.push({
        type: 'scatter', ...ax(gm), data: PT.map((x, i) => [x, vals[i]]), symbol: 'rect', symbolSize: 25, clip: true, silent: true, z: 6,
        itemStyle: { color: 'rgba(0,0,0,0)', borderColor: C_RED, borderWidth: 5, opacity: 1 },
      });

      // ---------- ratio panel ----------
      const gr = addGrid(COL_L[c], RATIO_TB[h][0], COL_R[c], RATIO_TB[h][1], RATIO_Y[h], c, h === 2);
      refLine(gr, 1);
      const ratios = RATIOS[h][c];
      const symbols = [
        { symbol: 'circle', size: 25, fill: 'rgba(0,0,0,0)', border: C_MAG, bw: 4, gap: 14 },
        { symbol: STAR, size: [36, 34], fill: C_GOLD, border: C_GOLD, bw: 0, gap: 15 },
        { symbol: 'diamond', size: [18, 32], fill: 'rgba(0,0,0,0)', border: C_TEAL, bw: 4, gap: 17 },
      ];
      for (let m = 0; m < 3; m++) {
        const rv = ratios[m][0] as any[];
        const re = ratios[m][1] as number[];
        const pts = PT.map((x, i) => (rv[i] == null ? null : [x, rv[i], re[i]])).filter((d) => d);
        const sy = symbols[m];
        series.push({
          type: 'custom', ...ax(gr), clip: true, silent: true, z: 3 + m * 2,
          data: pts,
          renderItem: errBarRender(modelColor[m], sy.gap, 4),
        });
        series.push({
          type: 'scatter', ...ax(gr), data: pts.map((d: any) => [d[0], d[1]]), symbol: sy.symbol, symbolSize: sy.size,
          clip: true, silent: true, z: 4 + m * 2,
          itemStyle: { color: sy.fill, borderColor: sy.border, borderWidth: sy.bw, opacity: 1 },
        });
        if (m === 1) {
          // small white star in the centre of the gold star marker
          series.push({
            type: 'scatter', ...ax(gr), data: pts.map((d: any) => [d[0], d[1]]), symbol: STAR, symbolSize: [9, 8.5],
            clip: true, silent: true, z: 5 + m * 2,
            itemStyle: { color: '#fff', opacity: 1 },
          });
        }
      }
    }
  }

  // ---------------- graphics: titles, labels, legend ----------------
  const g: any[] = [];
  const yTitleTop = [28, 796, 1581];
  const yTitleSub = ['2', '3', '4'];
  for (let h = 0; h < 3; h++) {
    g.push({
      type: 'text', x: 80, y: yTitleTop[h], rotation: Math.PI / 2, z: 100,
      style: {
        text: `{i|v}{s|${yTitleSub[h]}}{{n|2, |Δη|>2}}`, fontSize: 54, fontFamily: FONT, fill: '#000',
        textAlign: 'right', align: 'right', textVerticalAlign: 'middle', verticalAlign: 'middle',
        lineHeight: 78, rich: rich(54, 78),
      },
    });
    const cy = (RATIO_TB[h][0] + RATIO_TB[h][1]) / 2 - 3;
    g.push({
      type: 'group', x: 83, y: cy, rotation: Math.PI / 2, z: 100,
      children: [
        { type: 'text', x: 0, y: -22, style: { text: 'data', fontSize: 44, fontFamily: FONT, fill: '#000', textAlign: 'center', align: 'center', textVerticalAlign: 'middle', verticalAlign: 'middle' } },
        { type: 'line', shape: { x1: -64, y1: 0, x2: 64, y2: 0 }, style: { stroke: '#000', lineWidth: 7 } },
        { type: 'text', x: 0, y: 23, style: { text: 'model', fontSize: 44, fontFamily: FONT, fill: '#000', textAlign: 'center', align: 'center', textVerticalAlign: 'middle', verticalAlign: 'middle' } },
      ],
    });
  }
  // x titles: "p_T (GeV/c)"
  const fN = `50px "Liberation Sans"`;
  const fI = `italic 50px "Liberation Sans"`;
  const wUnit = measure('(GeV/', fN) + measure('c', fI) + measure(')', fN);
  const wSpace = measure(' ', fN);
  const wT = measure('T', `33px "Liberation Sans"`);
  for (let c = 0; c < 3; c++) {
    const R = COL_R[c] - 2;
    g.push(textEl(R, 2316, '(GeV/{i|c})', 50, 'right', { lh: 42 }));
    const tRight = R - wUnit - wSpace;
    g.push(textEl(tRight, 2334, 'T', 33, 'right', { lh: 30 }));
    g.push(textEl(tRight - wT + 4, 2316, '{i|p}', 50, 'right', { lh: 40 }));
  }
  // centrality labels
  const topRight = [1281, 2415, 3513];
  const leftX = [303, 1433, 2533];
  for (let c = 0; c < 3; c++) {
    g.push(textEl(topRight[c], 533, CENTRALITIES[c], 58, 'right'));
    g.push(textEl(leftX[c], 843, CENTRALITIES[c], 58, 'left'));
    g.push(textEl(leftX[c], 1614, CENTRALITIES[c], 58, 'left'));
  }
  // header text
  g.push(textEl(1420, 57, 'ALICE Pb–Pb', 52, 'left'));
  g.push({ type: 'polyline', z: 100, shape: { points: [[1757, 68], [1765, 63], [1775, 95], [1787, 29], [1874, 29]] }, style: { stroke: '#000', lineWidth: 4, fill: 'none' } });
  g.push(textEl(1792, 57, '{i|s}{s|NN}', 52, 'left'));
  g.push(textEl(1890, 57, '= 5.02 TeV', 52, 'left'));
  g.push(textEl(1420, 134, '|{i|y}| < 0.5', 52, 'left'));
  g.push(textEl(1737, 153, 'K', 60, 'left'));
  g.push(textEl(1780, 132, '±', 38, 'left'));
  // arXiv stamp
  g.push({
    type: 'text', x: 3537, y: 378, z: 100,
    style: { text: 'arXiv:1805.04390v1', fontSize: 94, fontWeight: 'bold', fontFamily: '"Liberation Serif", "Times New Roman", serif', fill: '#0B72B8', textAlign: 'right', align: 'right', textVerticalAlign: 'middle', verticalAlign: 'middle' },
  });
  // legend
  const lx0 = 310, lx1 = 455, lcx = 382;
  g.push({ type: 'rect', z: 100, shape: { x: 312, y: 30, width: 141, height: 53 }, style: { fill: C_PINK } });
  g.push({ type: 'rect', z: 101, shape: { x: lcx - 13, y: 56 - 13, width: 26, height: 26 }, style: { fill: 'none', stroke: C_RED, lineWidth: 5 } });
  g.push(textEl(487, 56, 'ALICE', 45, 'left'));
  const legY = [138, 222, 304];
  const legText = ['MUSIC + IP-Glasma IC + UrQMD', 'iEBE-VISHNU + AMPT IC + UrQMD', 'iEBE-VISHNU + TRENTo IC + UrQMD'];
  for (let m = 0; m < 3; m++) {
    const y = legY[m];
    g.push({ type: 'rect', z: 100, shape: { x: lx0, y: y - 29, width: lx1 - lx0, height: 58 }, style: { fill: pat[m] } });
    g.push({ type: 'line', z: 101, shape: { x1: lx0, y1: y, x2: lx1 - 2, y2: y }, style: { stroke: modelColor[m], lineWidth: 8, lineDash: m === 0 ? [19, 20] : m === 2 ? [32, 20, 6, 20] : null } });
    g.push(textEl(487, y, legText[m], 45, 'left'));
  }
  g.push({ type: 'circle', z: 102, shape: { cx: lcx, cy: legY[0], r: 13 }, style: { fill: 'none', stroke: C_MAG, lineWidth: 4 } });
  const starPts: number[][] = [];
  for (let k = 0; k < 10; k++) {
    const a = -Math.PI / 2 + (k * Math.PI) / 5;
    const r = k % 2 === 0 ? 19 : 7.5;
    starPts.push([lcx + r * Math.cos(a), legY[1] + 2 + r * Math.sin(a)]);
  }
  g.push({ type: 'polygon', z: 102, shape: { points: starPts }, style: { fill: C_GOLD } });
  g.push({ type: 'polygon', z: 102, shape: { points: [[lcx, legY[2] - 17], [lcx + 10, legY[2]], [lcx, legY[2] + 17], [lcx - 10, legY[2]]] }, style: { fill: 'none', stroke: C_TEAL, lineWidth: 4 } });

  return { animation: false, backgroundColor: '#fff', grid, xAxis, yAxis, series, graphic: { elements: g } };
}

export default function App() {
  const ref = useRef<HTMLDivElement>(null);
  useEffect(() => {
    document.body.style.margin = '0';
    const chart = echarts.init(ref.current as HTMLDivElement, null, { renderer: 'svg', width: W, height: H });
    chart.setOption(buildOption() as any);
    return () => chart.dispose();
  }, []);
  return <div ref={ref} style={{ width: W, height: H }} />;
}
